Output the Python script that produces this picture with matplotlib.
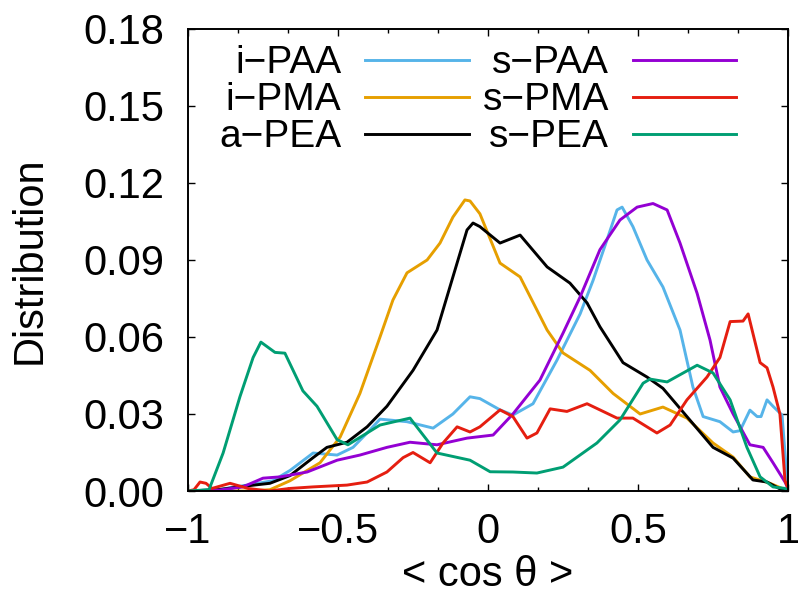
import matplotlib
matplotlib.use("Agg")
import matplotlib.pyplot as plt
from matplotlib.ticker import AutoMinorLocator

# ---------------- data ----------------
x_ipaa = [-1, -0.9, -0.803, -0.717, -0.66, -0.583, -0.503, -0.45, -0.40, -0.36, -0.27, -0.183, -0.117, -0.06,
          -0.027, 0.04, 0.083, 0.15, 0.23, 0.307, 0.35, 0.397, 0.43, 0.447, 0.483, 0.53, 0.583, 0.64, 0.683,
          0.717, 0.773, 0.817, 0.84, 0.873, 0.897, 0.91, 0.93, 0.95, 0.98, 1.0]
y_ipaa = [0, 0.0005, 0.0023, 0.004, 0.008, 0.0148, 0.014, 0.017, 0.023, 0.028, 0.027, 0.0245, 0.030, 0.0367,
          0.036, 0.0316, 0.0296, 0.034, 0.051, 0.069, 0.082, 0.098, 0.1095, 0.1106, 0.103, 0.090, 0.0795, 0.0627,
          0.0405, 0.029, 0.027, 0.023, 0.0235, 0.0315, 0.029, 0.029, 0.0355, 0.033, 0.0296, 0.0]

x_ipma = [-1, -0.8, -0.727, -0.66, -0.56, -0.493, -0.427, -0.36, -0.317, -0.27, -0.203, -0.16, -0.117, -0.077,
          -0.06, -0.027, 0.04, 0.107, 0.197, 0.25, 0.34, 0.417, 0.507, 0.583, 0.663, 0.75, 0.817, 0.873, 0.94, 1.0]
y_ipma = [0, 0, 0.0005, 0.004, 0.011, 0.021, 0.038, 0.060, 0.0744, 0.085, 0.090, 0.0966, 0.1067, 0.1134,
          0.113, 0.108, 0.0888, 0.0834, 0.0627, 0.0538, 0.047, 0.038, 0.030, 0.0327, 0.0284, 0.0187, 0.0132,
          0.0055, 0.003, 0.0]

x_apea = [-1, -0.9, -0.803, -0.727, -0.66, -0.583, -0.537, -0.47, -0.403, -0.337, -0.25, -0.17, -0.117, -0.07,
          -0.05, -0.027, 0.04, 0.107, 0.197, 0.273, 0.33, 0.373, 0.45, 0.53, 0.583, 0.663, 0.75, 0.817, 0.883,
          0.93, 0.97, 1.0]
y_apea = [0, 0.0005, 0.002, 0.003, 0.006, 0.013, 0.017, 0.019, 0.025, 0.033, 0.047, 0.0627, 0.0834, 0.1017,
          0.1044, 0.103, 0.0966, 0.0997, 0.0873, 0.081, 0.0733, 0.064, 0.050, 0.0444, 0.040, 0.029, 0.017,
          0.0128, 0.0043, 0.0035, 0.001, 0]

x_spaa = [-1, -0.9, -0.817, -0.75, -0.693, -0.603, -0.503, -0.427, -0.337, -0.26, -0.17, -0.07, 0.017, 0.083,
          0.173, 0.25, 0.307, 0.373, 0.44, 0.497, 0.55, 0.597, 0.64, 0.697, 0.74, 0.773, 0.817, 0.873, 0.917,
          0.95, 0.99, 1.0]
y_spaa = [0, 0.0003, 0.0016, 0.005, 0.0055, 0.0074, 0.012, 0.014, 0.017, 0.019, 0.018, 0.0206, 0.0218, 0.030,
          0.0432, 0.0615, 0.0756, 0.094, 0.1056, 0.1106, 0.112, 0.1095, 0.0966, 0.077, 0.0588, 0.0405, 0.030,
          0.018, 0.017, 0.011, 0.0035, 0.001]

x_spma = [-1, -0.98, -0.96, -0.94, -0.92, -0.86, -0.8, -0.73, -0.66, -0.583, -0.47, -0.403, -0.337, -0.283,
          -0.25, -0.193, -0.15, -0.103, -0.06, -0.027, 0.04, 0.083, 0.13, 0.163, 0.207, 0.263, 0.33, 0.373, 0.43,
          0.483, 0.563, 0.607, 0.663, 0.73, 0.773, 0.807, 0.85, 0.867, 0.907, 0.93, 0.95, 0.973, 0.99, 1.0]
y_spma = [0, 0.0005, 0.0035, 0.003, 0.001, 0.003, 0.001, 0, 0.001, 0.0016, 0.0023, 0.0035, 0.0074, 0.013,
          0.015, 0.011, 0.0187, 0.025, 0.023, 0.025, 0.0316, 0.029, 0.0206, 0.0226, 0.032, 0.031, 0.034, 0.0316,
          0.0284, 0.0284, 0.0226, 0.0257, 0.0355, 0.0444, 0.052, 0.066, 0.0662, 0.069, 0.050, 0.048, 0.0405,
          0.030, 0.004, 0.001]

x_spea = [-1, -0.93, -0.883, -0.827, -0.783, -0.757, -0.71, -0.677, -0.617, -0.57, -0.503, -0.467, -0.36, -0.26,
          -0.17, -0.06, 0.007, 0.083, 0.163, 0.25, 0.363, 0.44, 0.517, 0.54, 0.597, 0.697, 0.75, 0.807, 0.863,
          0.907, 0.95, 0.99, 1.0]
y_spea = [0, 0.0005, 0.0148, 0.0367, 0.052, 0.058, 0.054, 0.0537, 0.039, 0.033, 0.020, 0.018, 0.0257, 0.0284,
          0.0148, 0.012, 0.0075, 0.0074, 0.007, 0.0093, 0.0187, 0.0277, 0.042, 0.0436, 0.0425, 0.049, 0.046,
          0.0355, 0.017, 0.0055, 0.0016, 0.001, 0]

labels = ["i\u2212PAA", "i\u2212PMA", "a\u2212PEA", "s\u2212PAA", "s\u2212PMA", "s\u2212PEA"]
xticks = [-1, -0.5, 0, 0.5, 1]
xticklabels = ["\u22121", "\u22120.5", "0", "0.5", "1"]
yticks = [0.00, 0.03, 0.06, 0.09, 0.12, 0.15, 0.18]
yticklabels = ["0.00", "0.03", "0.06", "0.09", "0.12", "0.15", "0.18"]

# ---------------- style ----------------
plt.rcParams['font.family'] = ["Liberation Sans", "DejaVu Sans"]

colors = ["#56b4e9", "#e69f00", "#000000", "#9400d3", "#e51e10", "#009e73"]

fig = plt.figure(figsize=(7.98, 5.94), dpi=100)
ax = fig.add_axes([0.2356, 0.1734, 0.7519, 0.7778])

series = [(x_ipaa, y_ipaa), (x_ipma, y_ipma), (x_apea, y_apea),
          (x_spaa, y_spaa), (x_spma, y_spma), (x_spea, y_spea)]
for (xs, ys), c, lab in zip(series, colors, labels):
    ax.plot(xs, ys, color=c, lw=2.1, label=lab, solid_joinstyle='round')

ax.set_xlim(-1, 1)
ax.set_ylim(0, 0.18)
ax.set_xticks(xticks)
ax.set_xticklabels(xticklabels)
ax.set_yticks(yticks)
ax.set_yticklabels(yticklabels)
ax.xaxis.set_minor_locator(AutoMinorLocator(3))

fs = 30
ax.tick_params(which='both', direction='in', top=True, right=True, labelsize=fs, width=1.0)
ax.tick_params(which='major', length=5)
ax.tick_params(which='minor', length=3)
ax.tick_params(axis='x', which='major', pad=15)
ax.tick_params(axis='y', which='major', pad=17)
for s in ax.spines.values():
    s.set_linewidth(1.4)

ax.set_xlabel("< cos \u03b8 >", fontsize=fs, labelpad=2)
ax.set_ylabel("Distribution", fontsize=fs, labelpad=24)

leg = ax.legend(ncol=2, markerfirst=False, frameon=False, fontsize=28,
                loc='upper left', bbox_to_anchor=(0.052, 0.965), borderaxespad=0, borderpad=0,
                handlelength=2.65, handletextpad=0.62, columnspacing=0.36, labelspacing=0.03)

fig.savefig("out.png", dpi=100)
